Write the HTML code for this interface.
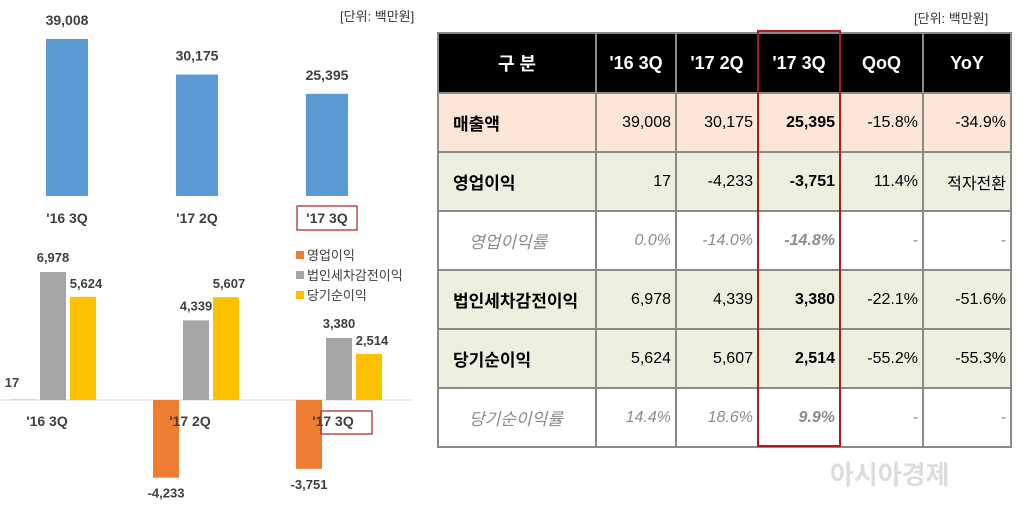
<!DOCTYPE html>
<html><head><meta charset="utf-8">
<style>
body{margin:0;width:1024px;height:507px;background:#fff;overflow:hidden;position:relative;font-family:"Liberation Sans","Noto Sans CJK KR",sans-serif;}
svg{position:absolute;left:0;top:0}
table{position:absolute;left:437px;top:32px;border-collapse:collapse;table-layout:fixed;font-family:"Liberation Sans","Noto Sans CJK KR",sans-serif;}
td,th{border:2px solid #8a8a8a;font-size:16px;padding:0 4px 0 0;text-align:right;}
th{background:#000;color:#fff;font-weight:bold;text-align:center;height:58px;font-size:18px;padding:0}
td.l{text-align:left;padding-left:14px;font-weight:bold;font-size:17px}
tr.r1 td{background:#fce6d8}
tr.g td{background:#ebf0df}
tr.w td{background:#fff;color:#8c8c8c;font-style:italic}
tr td{height:57px}
.b{font-weight:bold}
#hl{position:absolute;left:757px;top:30px;width:80px;height:413px;border:2px solid #b01c1c;}
.unit{position:absolute;font-size:13px;color:#333}
</style></head><body>
<div class="unit" style="left:340px;top:6px">[단위: 백만원]</div>
<div class="unit" style="left:914px;top:8px">[단위: 백만원]</div>
<svg width="430" height="507" id="charts"></svg>
<table>
<colgroup><col style="width:158px"><col style="width:80px"><col style="width:82px"><col style="width:82px"><col style="width:83px"><col style="width:88px"></colgroup>
<tr><th>구 분</th><th>'16 3Q</th><th>'17 2Q</th><th>'17 3Q</th><th>QoQ</th><th>YoY</th></tr>
<tr class="r1"><td class="l">매출액</td><td>39,008</td><td>30,175</td><td class="b">25,395</td><td>-15.8%</td><td>-34.9%</td></tr>
<tr class="g"><td class="l">영업이익</td><td>17</td><td>-4,233</td><td class="b">-3,751</td><td>11.4%</td><td>적자전환</td></tr>
<tr class="w"><td class="l" style="font-weight:normal;padding-left:30px">영업이익률</td><td>0.0%</td><td>-14.0%</td><td class="b">-14.8%</td><td>-</td><td>-</td></tr>
<tr class="g"><td class="l">법인세차감전이익</td><td>6,978</td><td>4,339</td><td class="b">3,380</td><td>-22.1%</td><td>-51.6%</td></tr>
<tr class="g"><td class="l">당기순이익</td><td>5,624</td><td>5,607</td><td class="b">2,514</td><td>-55.2%</td><td>-55.3%</td></tr>
<tr class="w"><td class="l" style="font-weight:normal;padding-left:30px">당기순이익률</td><td>14.4%</td><td>18.6%</td><td class="b">9.9%</td><td>-</td><td>-</td></tr>
</table>
<div id="hl"></div>
<div style="position:absolute;left:830px;top:455px;font-size:26px;color:#ddd;font-weight:bold">아시아경제</div>
<script>
const categories=["'16 3Q","'17 2Q","'17 3Q"];
const revenue=[39008,30175,25395];
const opProfit=[17,-4233,-3751];
const pretax=[6978,4339,3380];
const netProfit=[5624,5607,2514];
const seriesNames=["영업이익","법인세차감전이익","당기순이익"];
const colors=["#ed7d31","#a5a5a5","#ffc000"];
const svg=document.getElementById('charts');
const NS='http://www.w3.org/2000/svg';
function mk(t,a,txt){const e=document.createElementNS(NS,t);for(const k in a)e.setAttribute(k,a[k]);if(txt!==undefined)e.textContent=txt;svg.appendChild(e);return e;}
function fmt(v){return v.toLocaleString('en-US');}
const yTop=v=>196-v*157/39008;
const xTop=i=>67+i*130;
revenue.forEach((v,i)=>{
 const r=mk('rect',{x:xTop(i)-21,y:yTop(v),width:42,height:196-yTop(v),fill:'#5b9bd5'});
 
 const t=mk('text',{x:xTop(i),y:yTop(v)-14,'text-anchor':'middle','font-size':14,'font-weight':'bold',fill:'#404040'},fmt(v));
 
 const c=mk('text',{x:xTop(i),y:223,'text-anchor':'middle','font-size':14,'font-weight':'bold',fill:'#404040'},categories[i]);
 
});
const bx=mk('rect',{x:297,y:206,width:60,height:24,fill:'none',stroke:'#b03030','stroke-width':1.3});

const y0=400, sc=128/6978;
const yB=v=>y0-v*sc;
const gx=i=>23+i*143;
const ax=mk('line',{x1:0,x2:412,y1:y0,y2:y0,stroke:'#d9d9d9','stroke-width':1});

[opProfit,pretax,netProfit].forEach((s,si)=>{
 s.forEach((v,i)=>{
  const x=gx(i)+si*30-13;
  const top=Math.min(yB(v),y0), h=Math.abs(v*sc);
  const r=mk('rect',{x:x,y:top,width:26,height:Math.max(h,0.3),fill:colors[si]});
  
  let ly=v>=0?yB(v)-10:yB(v)+20, lx=x+13;
  if(si===0&&v>=0){lx=x+2;ly=y0-13;}
  if(si===2&&v>=0){ly=yB(v)-9;lx=x+16;}
  const t=mk('text',{x:lx,y:ly,'text-anchor':'middle','font-size':13,'font-weight':'bold',fill:'#404040'},fmt(v));
  
 });
});
categories.forEach((c,i)=>{
 const t=mk('text',{x:gx(i)+24,y:426,'text-anchor':'middle','font-size':14,'font-weight':'bold',fill:'#404040'},c);
 
});
const bx2=mk('rect',{x:321,y:411,width:51,height:23,fill:'none',stroke:'#b03030','stroke-width':1.3});

seriesNames.forEach((n,i)=>{
 const y=256+i*20;
 const r=mk('rect',{x:296,y:y-5,width:8,height:8,fill:colors[i]});
 
 const t=mk('text',{x:307,y:y+4,'font-size':13,fill:'#404040'},n);
 
});
</script>
</body></html>
